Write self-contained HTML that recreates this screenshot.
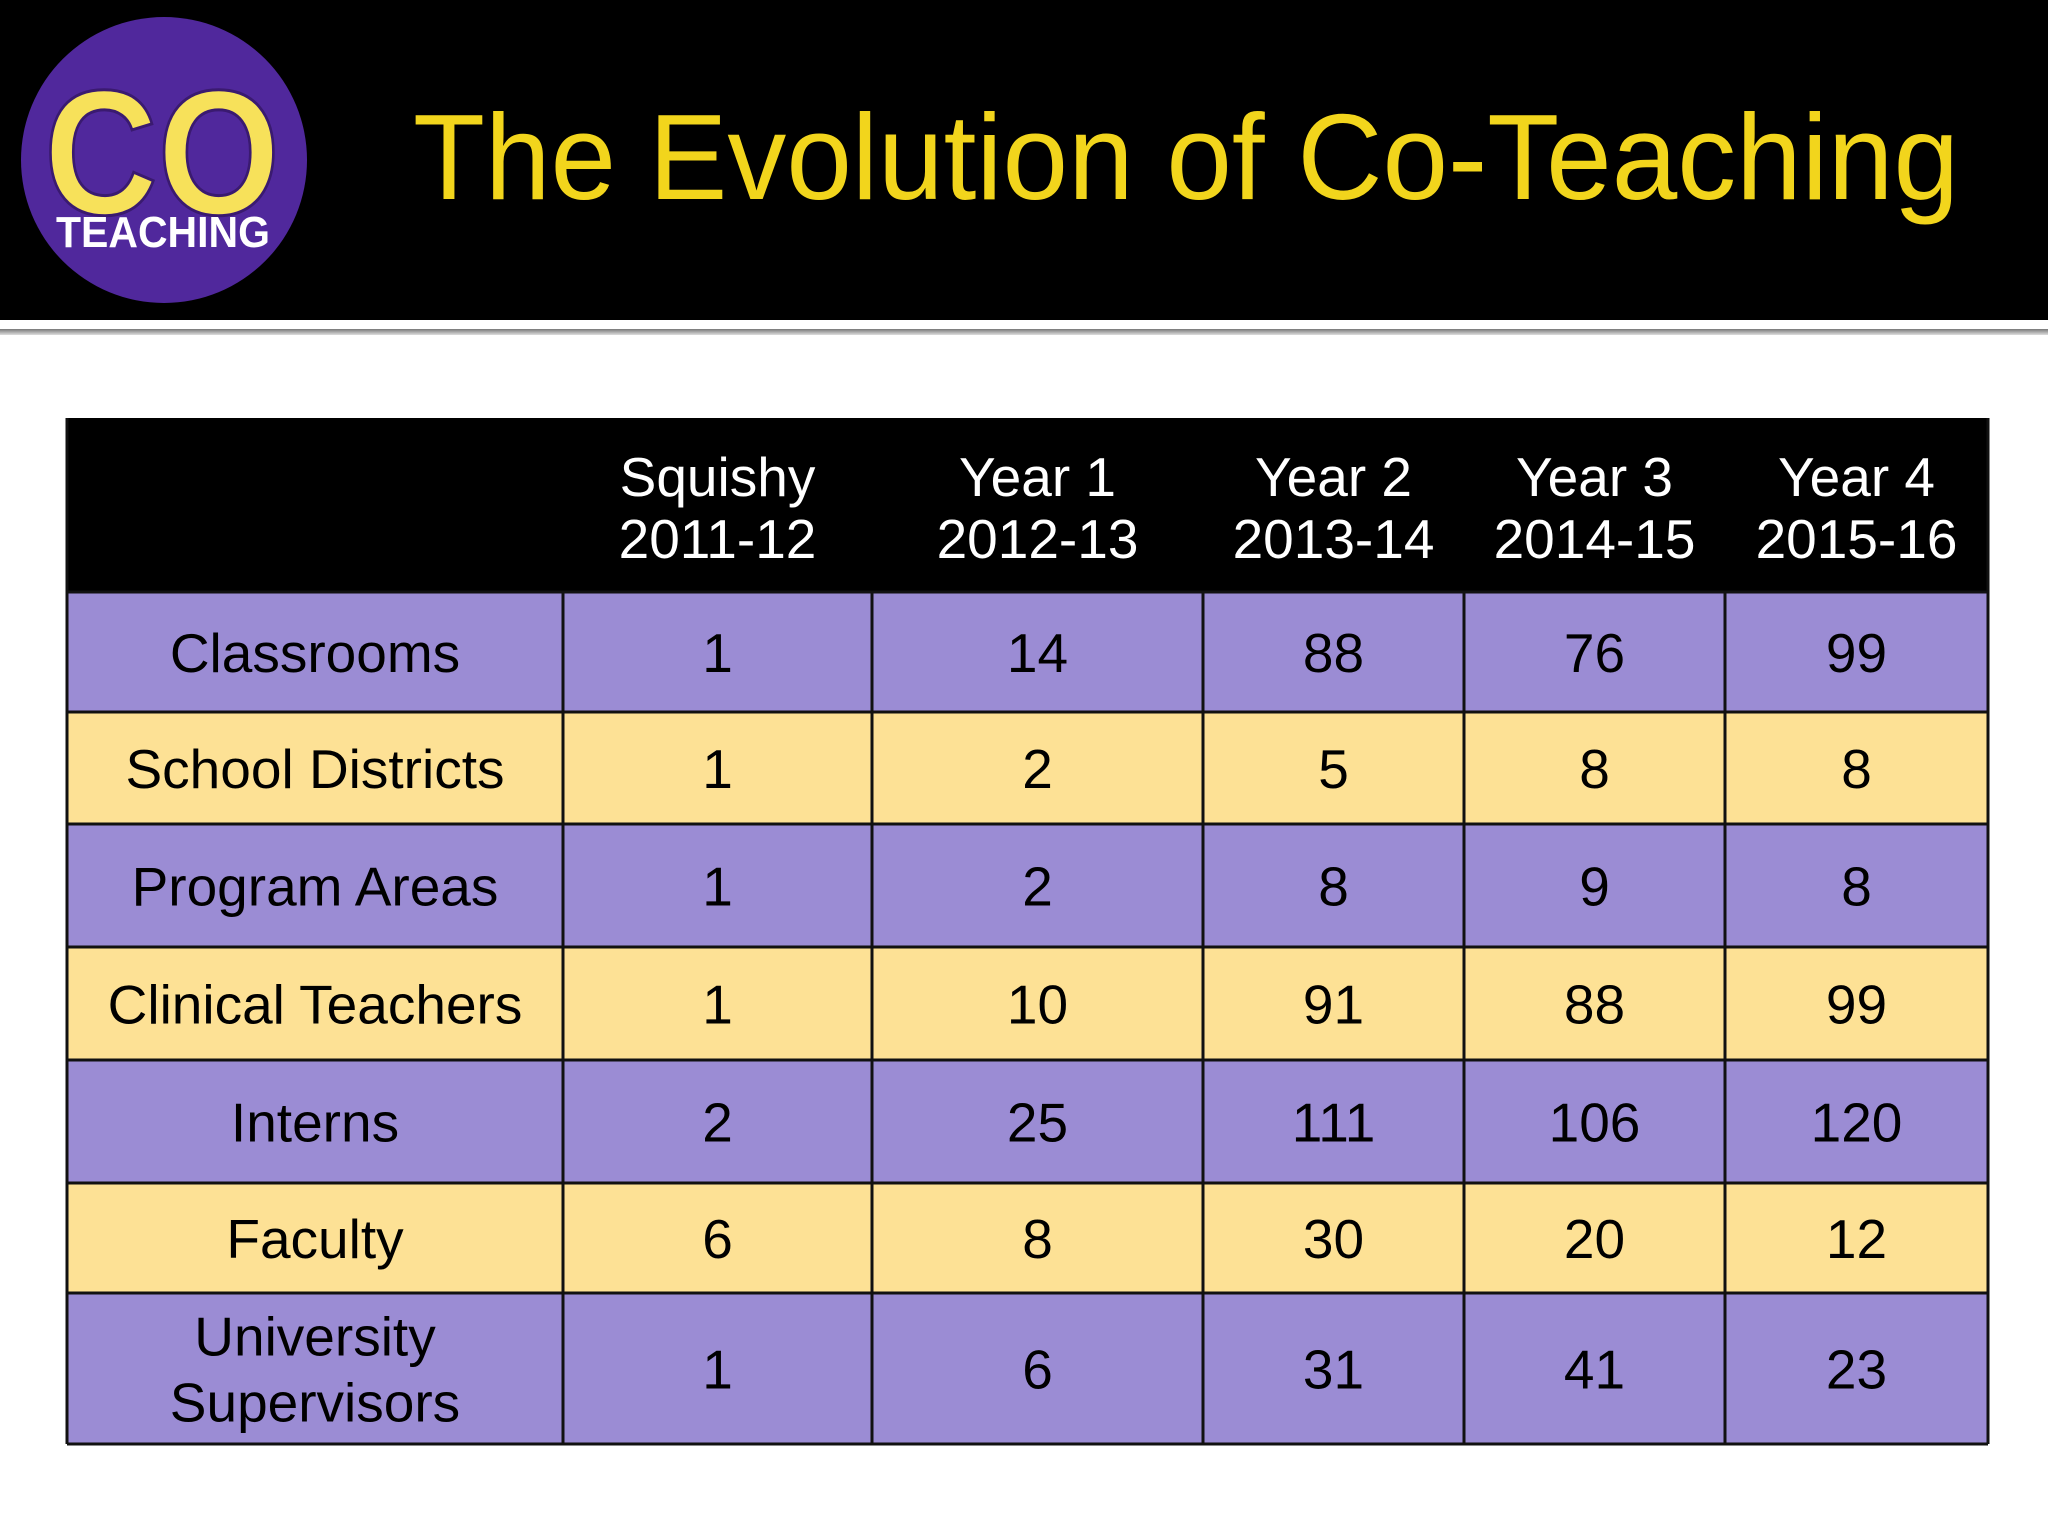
<!DOCTYPE html>
<html><head><meta charset="utf-8"><style>
html,body{margin:0;padding:0;background:#fff;}
svg{display:block;font-family:"Liberation Sans",Arial,sans-serif;}
</style></head><body>
<svg id="s" width="2048" height="1536" viewBox="0 0 2048 1536" xmlns="http://www.w3.org/2000/svg">
<defs><linearGradient id="gl" x1="0" y1="0" x2="0" y2="1"><stop offset="0" stop-color="#777"/><stop offset="1" stop-color="#ddd"/></linearGradient></defs>
<rect x="0" y="0" width="2048" height="320" fill="#000"/>
<rect x="0" y="329" width="2048" height="6" fill="url(#gl)"/>
<g>
<circle cx="164" cy="160" r="143" fill="#50289c"/>
<text x="162" y="214" text-anchor="middle" font-size="178" font-weight="bold" fill="#f7e15a" stroke="#3a1a70" stroke-width="3" textLength="236" lengthAdjust="spacingAndGlyphs">CO</text>
<text x="163" y="247" text-anchor="middle" font-size="44" font-weight="bold" fill="#fff" textLength="214" lengthAdjust="spacingAndGlyphs">TEACHING</text>
</g>
<text x="413" y="199" font-size="122" fill="#f2d51c" textLength="1546" lengthAdjust="spacingAndGlyphs">The Evolution of Co-Teaching</text>
<g id="tbl"></g>
</svg>
<script>
const columnYears = ["Squishy", "Year 1", "Year 2", "Year 3", "Year 4"];
const columnRanges = ["2011-12", "2012-13", "2013-14", "2014-15", "2015-16"];
const rowLabels = ["Classrooms", "School Districts", "Program Areas", "Clinical Teachers", "Interns", "Faculty", "University Supervisors"];
const classrooms = [1, 14, 88, 76, 99];
const schoolDistricts = [1, 2, 5, 8, 8];
const programAreas = [1, 2, 8, 9, 8];
const clinicalTeachers = [1, 10, 91, 88, 99];
const interns = [2, 25, 111, 106, 120];
const faculty = [6, 8, 30, 20, 12];
const universitySupervisors = [1, 6, 31, 41, 23];
const rowValues = [classrooms, schoolDistricts, programAreas, clinicalTeachers, interns, faculty, universitySupervisors];

const NS = "http://www.w3.org/2000/svg";
const g = document.getElementById("tbl");
const colX = [67, 563, 872, 1203, 1464, 1725, 1988];
const rowY = [418, 592, 712, 824, 947, 1060, 1183, 1293, 1444];
const FS = 55;
function mk(tag, attrs, parent) {
  const e = document.createElementNS(NS, tag);
  for (const k in attrs) e.setAttribute(k, attrs[k]);
  parent.appendChild(e);
  return e;
}
function txt(x, y, s, fill, parent) {
  const t = mk("text", {x: x, y: y, "text-anchor": "middle", "font-size": FS, fill: fill}, parent);
  t.textContent = s;
  return t;
}
// header
const hb = mk("rect", {x: colX[0], y: rowY[0], width: colX[6] - colX[0], height: rowY[1] - rowY[0], fill: "#000"}, g);


columnYears.forEach((c, i) => {
  const cx = (colX[i + 1] + colX[i + 2]) / 2;
  const t1 = txt(cx, 496, c, "#fff", g);
  
  
  const t2 = txt(cx, 558, columnRanges[i], "#fff", g);
  
  
});
// rows
rowLabels.forEach((lab, r) => {
  const y0 = rowY[r + 1], y1 = rowY[r + 2];
  const fill = r % 2 === 0 ? "#9b8cd4" : "#fde195";
  const bg = mk("rect", {x: colX[0], y: y0, width: colX[6] - colX[0], height: y1 - y0, fill: fill}, g);
  
  
  const mid = (y0 + y1) / 2;
  const lx = (colX[0] + colX[1]) / 2;
  if (lab === "University Supervisors") {
    const a = txt(lx, mid + 0.36 * FS - 33, "University", "#000", g);
    
    
    const b = txt(lx, mid + 0.36 * FS + 33, "Supervisors", "#000", g);
    
    
  } else {
    const a = txt(lx, mid + 0.36 * FS, lab, "#000", g);
    
    
  }
  rowValues[r].forEach((v, i) => {
    const t = txt((colX[i + 1] + colX[i + 2]) / 2, mid + 0.36 * FS, String(v), "#000", g);
    
    
  });
});
// grid lines
for (let r = 1; r < rowY.length; r++) {
  const l = mk("line", {x1: colX[0], x2: colX[6], y1: rowY[r], y2: rowY[r], stroke: "#111", "stroke-width": 3}, g);
  
  
}
for (let c = 0; c < colX.length; c++) {
  const top = (c === 0 || c === colX.length - 1) ? rowY[0] : rowY[1];
  const l = mk("line", {x1: colX[c], x2: colX[c], y1: top, y2: rowY[rowY.length - 1], stroke: "#111", "stroke-width": 3}, g);
  
  
}
</script>
</body></html>
